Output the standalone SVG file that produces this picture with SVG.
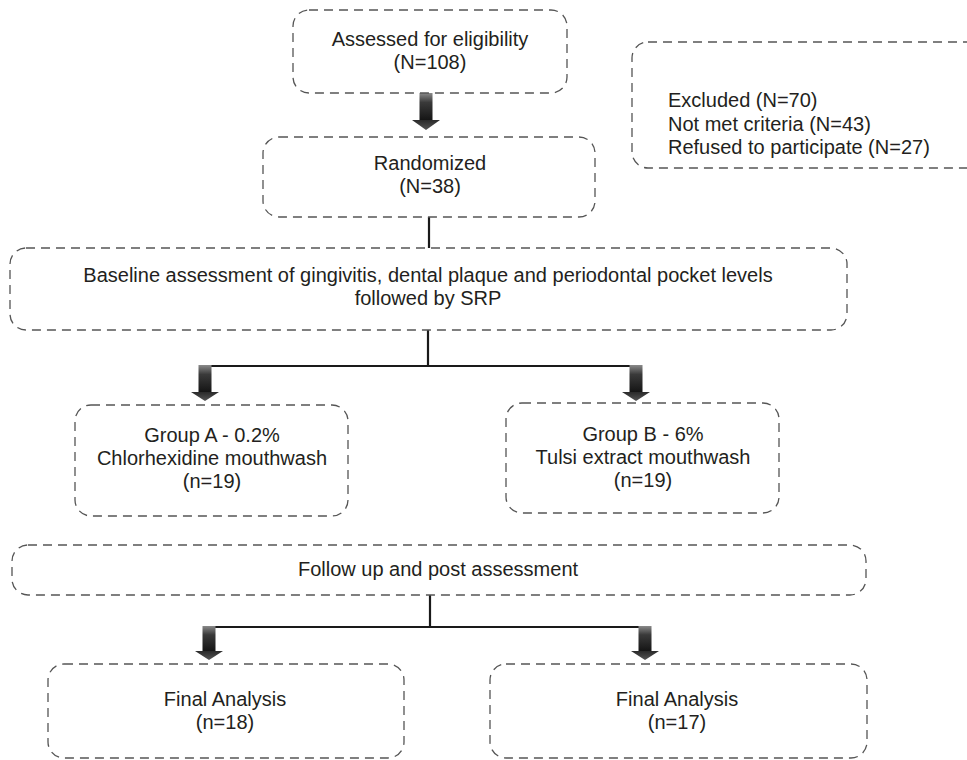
<svg xmlns="http://www.w3.org/2000/svg" width="967" height="760" viewBox="0 0 967 760">
<style>
.box{fill:none;stroke:#555;stroke-width:1.3;stroke-dasharray:9 6}
.t{font-family:"Liberation Sans",Arial,sans-serif;font-size:20px;fill:#231f20}
.c{text-anchor:middle}
.ln{fill:none;stroke:#1a1a1a;stroke-width:2.2}
.shaft{fill:url(#gs)}
.head{fill:url(#gh)}
</style>
<defs>
<linearGradient id="gs" x1="0" y1="0" x2="0" y2="1">
<stop offset="0" stop-color="#8a8a8a"/>
<stop offset="0.35" stop-color="#3a3a3a"/>
<stop offset="1" stop-color="#151515"/>
</linearGradient>
<linearGradient id="gh" x1="0" y1="0" x2="0" y2="1">
<stop offset="0" stop-color="#2a2a2a"/>
<stop offset="1" stop-color="#555"/>
</linearGradient>
</defs>
<rect width="967" height="760" fill="#fff"/>
<g id="connectors">
<rect class="shaft" x="419.5" y="93" width="13" height="27"/>
<polygon class="head" points="412,120 440,120 426,130"/>
<line class="ln" x1="429" y1="217" x2="429" y2="248"/>
<line class="ln" x1="428" y1="330" x2="428" y2="366"/>
<line class="ln" x1="205" y1="366" x2="636" y2="366"/>
<rect class="shaft" x="198.5" y="365" width="13" height="27"/>
<polygon class="head" points="191,392 219,392 205,401"/>
<rect class="shaft" x="629.5" y="365" width="13" height="27"/>
<polygon class="head" points="622,392 650,392 636,401"/>
<line class="ln" x1="430" y1="595" x2="430" y2="627"/>
<line class="ln" x1="209" y1="627" x2="645" y2="627"/>
<rect class="shaft" x="202.5" y="626" width="13" height="25"/>
<polygon class="head" points="195,651 223,651 209,660"/>
<rect class="shaft" x="638.5" y="626" width="13" height="25"/>
<polygon class="head" points="631,651 659,651 645,660"/>
</g>
<g id="assessed">
<rect class="box" x="293" y="10" width="274" height="83" rx="16"/>
<text class="t c" x="430" y="46">Assessed for eligibility</text>
<text class="t c" x="430" y="69">(N=108)</text>
</g>
<g id="excluded">
<rect class="box" x="632" y="42" width="360" height="126" rx="16"/>
<text class="t" x="668" y="107">Excluded (N=70)</text>
<text class="t" x="668" y="130.5">Not met criteria (N=43)</text>
<text class="t" x="668" y="154">Refused to participate (N=27)</text>
</g>
<g id="randomized">
<rect class="box" x="263" y="137" width="332" height="80" rx="16"/>
<text class="t c" x="430" y="170">Randomized</text>
<text class="t c" x="430" y="193">(N=38)</text>
</g>
<g id="baseline">
<rect class="box" x="10" y="248" width="837" height="82" rx="16"/>
<text class="t c" x="428" y="282">Baseline assessment of gingivitis, dental plaque and periodontal pocket levels</text>
<text class="t c" x="428" y="305">followed by SRP</text>
</g>
<g id="groupA">
<rect class="box" x="75" y="405" width="273" height="111" rx="16"/>
<text class="t c" x="212" y="442">Group A - 0.2%</text>
<text class="t c" x="212" y="465">Chlorhexidine mouthwash</text>
<text class="t c" x="212" y="488">(n=19)</text>
</g>
<g id="groupB">
<rect class="box" x="506" y="403" width="273" height="110" rx="16"/>
<text class="t c" x="643" y="441">Group B - 6%</text>
<text class="t c" x="643" y="464">Tulsi extract mouthwash</text>
<text class="t c" x="643" y="487">(n=19)</text>
</g>
<g id="followup">
<rect class="box" x="12" y="545" width="854" height="50" rx="16"/>
<text class="t c" x="438" y="576">Follow up and post assessment</text>
</g>
<g id="finalA">
<rect class="box" x="48" y="664" width="356" height="94" rx="16"/>
<text class="t c" x="225" y="706">Final Analysis</text>
<text class="t c" x="225" y="729">(n=18)</text>
</g>
<g id="finalB">
<rect class="box" x="490" y="664" width="377" height="94" rx="16"/>
<text class="t c" x="677" y="706">Final Analysis</text>
<text class="t c" x="677" y="729">(n=17)</text>
</g>
</svg>
